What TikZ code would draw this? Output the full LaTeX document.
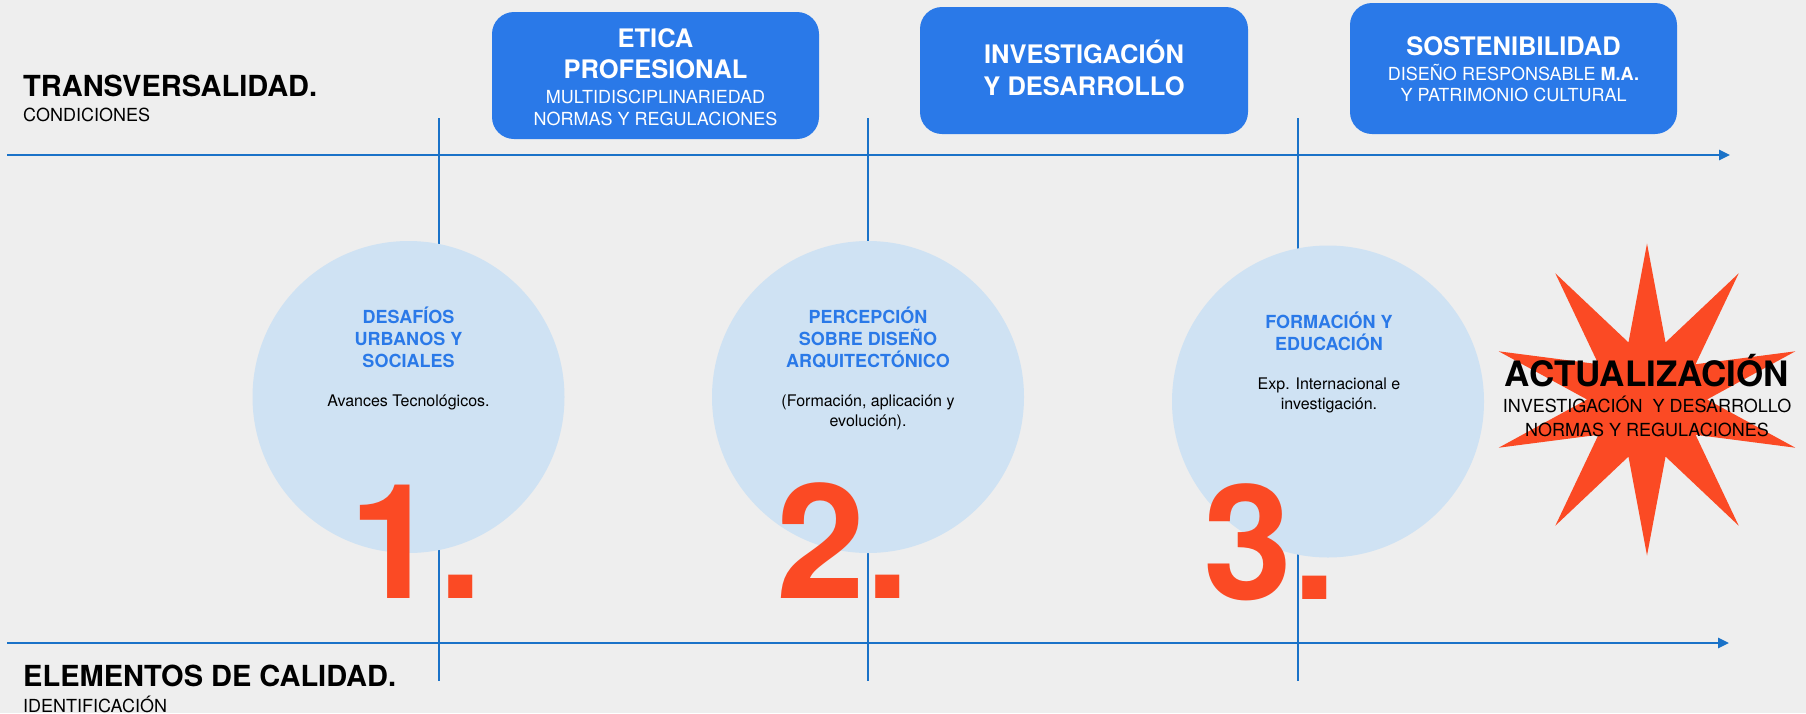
\documentclass[tikz,border=0pt]{standalone}
\usepackage{fontspec}
\setmainfont{TeX Gyre Heros}
\usetikzlibrary{arrows.meta,calc}
\definecolor{bg}{HTML}{EEEEEE}
\definecolor{axisblue}{HTML}{1A72C8}
\definecolor{boxblue}{HTML}{2A79E8}
\definecolor{circfill}{HTML}{CFE2F3}
\definecolor{numred}{HTML}{FB4A24}
\newcommand{\myfs}[1]{\fontsize{#1}{#1}\selectfont}
\begin{document}
\begin{tikzpicture}[x=1pt,y=-1pt,
  txt/.style={inner sep=0pt, anchor=base},
  axisline/.style={draw=axisblue, line width=2.6pt, -{Triangle[length=11pt,width=10pt]}},
  tickline/.style={draw=axisblue, line width=2pt},
  topbox/.style={fill=boxblue, rounded corners=22pt, inner sep=0pt},
  bubble/.style={circle, fill=circfill, inner sep=0pt, minimum size=312pt},
  numeral/.style={txt, text=numred, font=\bfseries\myfs{160}},
  headline/.style={txt, anchor=base west, font=\bfseries\myfs{29}},
  subline/.style={txt, anchor=base west, font=\myfs{18}},
  boxtitle/.style={txt, text=white, font=\bfseries\myfs{25.5}},
  boxsub/.style={txt, text=white, font=\myfs{18}},
  bubtitle/.style={txt, text=boxblue, font=\bfseries\myfs{18}},
  bubtext/.style={txt, font=\myfs{16}},
  starred/.style={fill=numred}
]
\fill[bg] (0,0) rectangle (1806,713);
\useasboundingbox (0,0) rectangle (1806,713);

% axes
\coordinate (tl) at (7,155);
\coordinate (tr) at (1730,155);
\coordinate (bl) at (7,643);
\coordinate (br) at (1729,643);
\coordinate (v1t) at (439,118);
\coordinate (v1b) at (439,681);
\coordinate (v2t) at (868,118);
\coordinate (v2b) at (868,681);
\coordinate (v3t) at (1298,118);
\coordinate (v3b) at (1298,681);
\draw[tickline] (v1t) -- (v1b);
\draw[tickline] (v2t) -- (v2b);
\draw[tickline] (v3t) -- (v3b);
\draw[axisline] (tl) -- (tr);
\draw[axisline] (bl) -- (br);

% left labels
\node[headline] (trans) at (23,96) {TRANSVERSALIDAD.};
\node[subline] (cond) at (23,121) {CONDICIONES};
\node[headline] (elem) at (23,686) {ELEMENTOS DE CALIDAD.};
\node[subline] (ident) at (23,712) {IDENTIFICACIÓN};

% top boxes
\node[topbox, minimum width=327pt, minimum height=127pt] (b1) at (655.5,75.5) {};
\node[boxtitle] (b1a) at (655.5,47) {ETICA};
\node[boxtitle] (b1b) at (655.5,78.5) {PROFESIONAL};
\node[boxsub] (b1c) at (655.5,103.3) {MULTIDISCIPLINARIEDAD};
\node[boxsub] (b1d) at (655.5,125.7) {NORMAS Y REGULACIONES};

\node[topbox, minimum width=328pt, minimum height=127pt] (b2) at (1084,70.5) {};
\node[boxtitle] (b2a) at (1084,63) {INVESTIGACIÓN};
\node[boxtitle] (b2b) at (1084,95) {Y DESARROLLO};

\node[topbox, minimum width=327pt, minimum height=131pt] (b3) at (1513.5,68.5) {};
\node[boxtitle] (b3a) at (1513.5,55) {SOSTENIBILIDAD};
\node[boxsub] (b3b) at (1513.5,80) {DISEÑO RESPONSABLE \textbf{M.A.}};
\node[boxsub] (b3c) at (1513.5,101.7) {Y PATRIMONIO CULTURAL};

% bubbles
\node[bubble] (c1) at (408.5,397) {};
\node[bubble] (c2) at (868,397) {};
\node[bubble] (c3) at (1328,401.5) {};

\node[bubtitle] (c1a) at (408.5,323.3) {DESAFÍOS};
\node[bubtitle] (c1b) at (408.5,345.5) {URBANOS Y};
\node[bubtitle] (c1c) at (408.5,367.7) {SOCIALES};
\node[bubtext] (c1d) at (408.5,406.5) {Avances Tecnológicos.};

\node[bubtitle] (c2a) at (868,323.3) {PERCEPCIÓN};
\node[bubtitle] (c2b) at (868,345.5) {SOBRE DISEÑO};
\node[bubtitle] (c2c) at (868,367.7) {ARQUITECTÓNICO};
\node[bubtext] (c2d) at (868,406.7) {(Formación, aplicación y};
\node[bubtext] (c2e) at (868,426) {evolución).};

\node[bubtitle] (c3a) at (1329,328.3) {FORMACIÓN Y};
\node[bubtitle] (c3b) at (1329,350) {EDUCACIÓN};
\node[bubtext] (c3c) at (1329,389.3) {Exp. Internacional e};
\node[bubtext] (c3d) at (1329,409) {investigación.};

% numerals
\node[numeral] (n1) at (416.5,598) {1.};
\node[numeral] (n2) at (843,598) {2.};
\node[numeral] (n3) at (1270,599) {3.};

% star
\coordinate (sc) at (1647,399.5);
\fill[starred] (sc) ++(90:156)
  \foreach \i [evaluate=\i as \r using {ifthenelse(mod(\i,2)==0,156,60)}] in {1,...,19} {
    -- ($(sc)+({90+18*\i}:\r)$) } -- cycle;
\node[txt, font=\bfseries\myfs{35}] (act) at (1647,386) {ACTUALIZACIÓN};
\node[txt, font=\myfs{18}] (act2) at (1647,412.7) {INVESTIGACIÓN\ \ Y DESARROLLO};
\node[txt, font=\myfs{18}] (act3) at (1647,436) {NORMAS Y REGULACIONES};
\end{tikzpicture}
\end{document}
